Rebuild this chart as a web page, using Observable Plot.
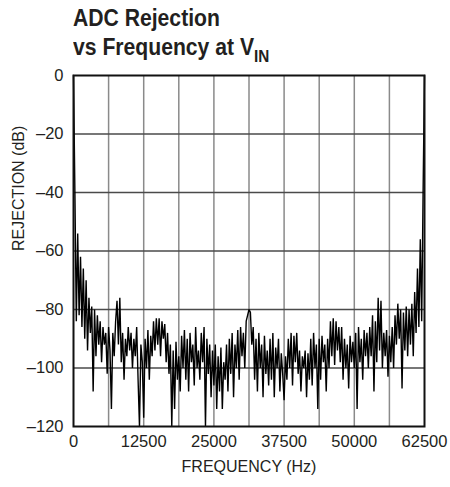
<!DOCTYPE html>
<html><head><meta charset="utf-8">
<script src="https://cdn.jsdelivr.net/npm/d3@7"></script>
<script src="https://cdn.jsdelivr.net/npm/@observablehq/plot@0.6"></script>
<style>
body{margin:0;background:#fff;}
#wrap{position:relative;width:450px;height:487px;}
.title{position:absolute;left:73px;font-family:"Liberation Sans",Arial,sans-serif;font-weight:bold;font-size:23.5px;line-height:23px;transform:scaleX(0.9);transform-origin:left top;color:#231f20;white-space:nowrap;}
.title .sub{font-size:17px;position:relative;top:7px;}
#wrap svg{position:absolute;left:0;top:0;}
</style></head><body>
<div id="wrap"></div>
<script>
// Chart values
const titleLine1 = "ADC Rejection";
const titleLine2 = "vs Frequency at V";
const titleSub = "IN";
const xLabel = "FREQUENCY (Hz)";
const yLabel = "REJECTION (dB)";
const xTicks = [0, 12500, 25000, 37500, 50000, 62500];
const xGrid = [6250, 12500, 18750, 25000, 31250, 37500, 43750, 50000, 56250];
const yTicks = [0, -20, -40, -60, -80, -100, -120];
const yGrid = [-20, -40, -60, -80, -100];
const binHz = 250; // spacing of the plotted frequency bins
const rejection = [
  0, -40, -84, -54, -82, -62, -86, -66, -90, -70,
  -94, -76, -88, -79, -108, -80, -96, -82, -92, -84,
  -98, -86, -92, -88, -102, -86, -94, -114, -88, -96,
  -84, -77, -92, -76, -98, -88, -104, -90, -96, -86,
  -94, -88, -100, -90, -96, -86, -104, -120, -92, -98,
  -117, -90, -100, -87, -104, -89, -96, -84, -94, -83,
  -92, -83, -96, -84, -90, -85, -98, -88, -102, -92,
  -120, -94, -114, -91, -104, -96, -108, -89, -100, -87,
  -104, -90, -108, -88, -98, -92, -106, -86, -100, -94,
  -104, -88, -98, -86, -120, -90, -102, -92, -110, -94,
  -106, -92, -114, -96, -108, -93, -114, -98, -104, -92,
  -108, -90, -102, -88, -110, -92, -100, -87, -104, -86,
  -96, -88, -100, -84, -82, -80, -81, -92, -86, -104,
  -90, -108, -88, -100, -92, -110, -89, -102, -94, -106,
  -90, -104, -88, -110, -93, -100, -90, -108, -95, -102,
  -111, -96, -104, -90, -100, -88, -106, -89, -98, -88,
  -102, -94, -108, -96, -100, -94, -110, -95, -104, -90,
  -106, -88, -100, -92, -114, -90, -104, -89, -98, -92,
  -108, -90, -100, -84, -96, -83, -99, -84, -94, -86,
  -98, -86, -104, -90, -100, -92, -107, -89, -98, -91,
  -100, -88, -114, -86, -98, -90, -104, -87, -96, -88,
  -100, -86, -96, -82, -108, -84, -98, -76, -94, -77,
  -100, -88, -96, -87, -103, -89, -98, -86, -100, -82,
  -92, -78, -90, -80, -107, -81, -94, -79, -96, -80,
  -92, -78, -96, -74, -88, -66, -86, -56, -84, -40,
  0
];

const data = rejection.map((db, i) => ({f: i * binHz, db}));
const fmtY = d => d === 0 ? "0" : "\u2013" + Math.abs(d);

const chart = Plot.plot({
  width: 450,
  height: 487,
  marginLeft: 73,
  marginRight: 26,
  marginTop: 75,
  marginBottom: 61,
  style: {fontFamily: "'Liberation Sans', Arial, sans-serif", fontSize: "16.5px", color: "#231f20", background: "transparent"},
  x: {domain: [0, 62500]},
  y: {domain: [-120, 0]},
  marks: [
    Plot.ruleX(xGrid, {stroke: "#8a8a8a", strokeWidth: 1.5}),
    Plot.ruleY(yGrid, {stroke: "#4a4a4a", strokeWidth: 1.5}),
    Plot.line(data, {x: "f", y: "db", stroke: "#000", strokeWidth: 1.4, strokeLinejoin: "miter"}),
    Plot.frame({stroke: "#111", strokeWidth: 2}),
    Plot.axisX(xTicks, {tickSize: 0, tickPadding: 9, tickFormat: d => String(d), label: null, fontSize: 16.5}),
    Plot.axisY(yTicks, {tickSize: 0, tickPadding: 10, tickFormat: fmtY, label: null, fontSize: 16.5}),
    Plot.text([xLabel], {frameAnchor: "bottom", dy: 45, fontSize: 16}),
    Plot.text([yLabel], {frameAnchor: "left", rotate: -90, dx: -55, fontSize: 16})
  ]
});

const wrap = document.getElementById("wrap");
wrap.appendChild(chart);
const t1 = document.createElement("div");
t1.className = "title"; t1.style.top = "7px"; t1.textContent = titleLine1;
const t2 = document.createElement("div");
t2.className = "title"; t2.style.top = "36px"; t2.textContent = titleLine2;
const s = document.createElement("span"); s.className = "sub"; s.textContent = titleSub;
t2.appendChild(s);
wrap.appendChild(t1); wrap.appendChild(t2);
</script>
</body></html>
